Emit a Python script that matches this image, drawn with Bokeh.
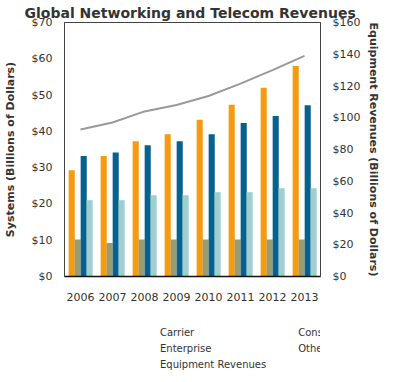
from bokeh.plotting import figure
from bokeh.layouts import column
from bokeh.models import (ColumnDataSource, FactorRange, Range1d, LinearAxis, Legend, LegendItem,
                          SingleIntervalTicker, PrintfTickFormatter)
from bokeh.transform import dodge
from bokeh.embed import file_html
from bokeh.resources import INLINE

years = ["2006", "2007", "2008", "2009", "2010", "2011", "2012", "2013"]
carrier = [29.3, 33.2, 37.3, 39.2, 43.2, 47.3, 52.0, 58.0]
consumer = [10.2, 9.2, 10.2, 10.2, 10.2, 10.2, 10.2, 10.2]
enterprise = [33.2, 34.2, 36.2, 37.3, 39.2, 42.3, 44.2, 47.2]
other = [21.0, 21.0, 22.4, 22.4, 23.2, 23.2, 24.3, 24.3]
equipment = [92.6, 97.0, 104.0, 108.0, 113.7, 121.5, 130.0, 139.0]

FONT = "DejaVu Sans"
TXT = "#333333"
C_CAR, C_CON, C_ENT, C_OTH, C_EQ = "#F79A0E", "#9B9B6B", "#03628F", "#9ECFD0", "#999999"

src = ColumnDataSource(dict(year=years, carrier=carrier, consumer=consumer,
                            enterprise=enterprise, other=other, equipment=equipment))

p = figure(x_range=FactorRange(*years), y_range=Range1d(0, 70),
           width=383, height=303,
           min_border_left=56, min_border_right=58, min_border_bottom=24, min_border_top=13,
           output_backend="svg", toolbar_location=None,
           title="Global Networking and Telecom Revenues")
p.title.text_font = FONT
p.title.text_font_size = "14px"
p.title.text_font_style = "bold"
p.title.text_color = TXT
p.title.align = "left"
p.title.offset = -40
p.title.standoff = 4

p.extra_y_ranges = {"eq": Range1d(0, 160)}

w = 0.19
p.vbar(x=dodge("year", -0.275, range=p.x_range), top="carrier", width=w, source=src,
       fill_color=C_CAR, line_color=None)
p.vbar(x=dodge("year", -0.09, range=p.x_range), top="consumer", width=w, source=src,
       fill_color=C_CON, line_color=None)
p.vbar(x=dodge("year", 0.10, range=p.x_range), top="enterprise", width=w, source=src,
       fill_color=C_ENT, line_color=None)
p.vbar(x=dodge("year", 0.285, range=p.x_range), top="other", width=w, source=src,
       fill_color=C_OTH, line_color=None)
p.line(x="year", y="equipment", source=src, y_range_name="eq",
       line_color=C_EQ, line_width=2)

p.xgrid.visible = False
p.ygrid.visible = False
p.outline_line_color = "#444444"
p.outline_line_width = 1

ya = p.yaxis[0]
ya.ticker = SingleIntervalTicker(interval=10)
ya.formatter = PrintfTickFormatter(format="$%d")
ya.axis_label = "Systems (Billions of Dollars)"

ra = LinearAxis(y_range_name="eq", ticker=SingleIntervalTicker(interval=20),
                formatter=PrintfTickFormatter(format="$%d"),
                axis_label="Equipment Revenues (Billions of Dollars)")
p.add_layout(ra, "right")

for ax in [ya, ra]:
    ax.major_tick_line_color = None
    ax.minor_tick_line_color = None
    ax.axis_line_color = "#444444"
    ax.major_label_text_font = FONT
    ax.major_label_text_font_size = "11px"
    ax.major_label_text_color = TXT
    ax.axis_label_text_font = FONT
    ax.axis_label_text_font_size = "11px"
    ax.axis_label_text_font_style = "bold"
    ax.axis_label_text_color = TXT
ya.major_label_standoff = 6
ya.axis_label_standoff = 12
ra.major_label_standoff = 6
ra.axis_label_standoff = 4

xa = p.xaxis[0]
xa.major_tick_line_color = None
xa.minor_tick_line_color = None
xa.axis_line_color = "#111111"
xa.axis_line_width = 1.5
xa.major_label_text_font = FONT
xa.major_label_text_font_size = "11px"
xa.major_label_text_color = TXT
xa.major_label_standoff = 10

# legend strip below the chart
lg = figure(width=383, height=69, x_range=Range1d(0, 1), y_range=Range1d(0, 1),
            min_border=0, x_axis_location=None, y_axis_location=None,
            output_backend="svg", toolbar_location=None)
lg.outline_line_color = None
lg.grid.visible = False
empty = ColumnDataSource(dict(x=[], y=[]))
l_car = lg.vbar(x="x", top="y", width=0.1, source=empty, fill_color=C_CAR, line_color=None)
l_con = lg.vbar(x="x", top="y", width=0.1, source=empty, fill_color=C_CON, line_color=None)
l_ent = lg.vbar(x="x", top="y", width=0.1, source=empty, fill_color=C_ENT, line_color=None)
l_oth = lg.vbar(x="x", top="y", width=0.1, source=empty, fill_color=C_OTH, line_color=None)
l_eq = lg.line(x="x", y="y", source=empty, line_color=C_EQ, line_width=2)

legend = Legend(items=[
    LegendItem(label="Carrier", renderers=[l_car]),
    LegendItem(label="Enterprise", renderers=[l_ent]),
    LegendItem(label="Equipment Revenues", renderers=[l_eq]),
    LegendItem(label="Consumer", renderers=[l_con]),
    LegendItem(label="Other", renderers=[l_oth]),
], orientation="vertical", ncols=2, location=(68, 2))
legend.padding = 0
legend.margin = 0
legend.spacing = 4
legend.glyph_width = 25
legend.glyph_height = 7
legend.label_height = 12
legend.label_standoff = 3
legend.label_text_font = FONT
legend.label_text_font_size = "10px"
legend.label_text_color = TXT
legend.border_line_color = None
legend.background_fill_alpha = 0
lg.add_layout(legend, "center")

layout = column(p, lg)
open("out.html", "w").write(file_html(layout, INLINE))
